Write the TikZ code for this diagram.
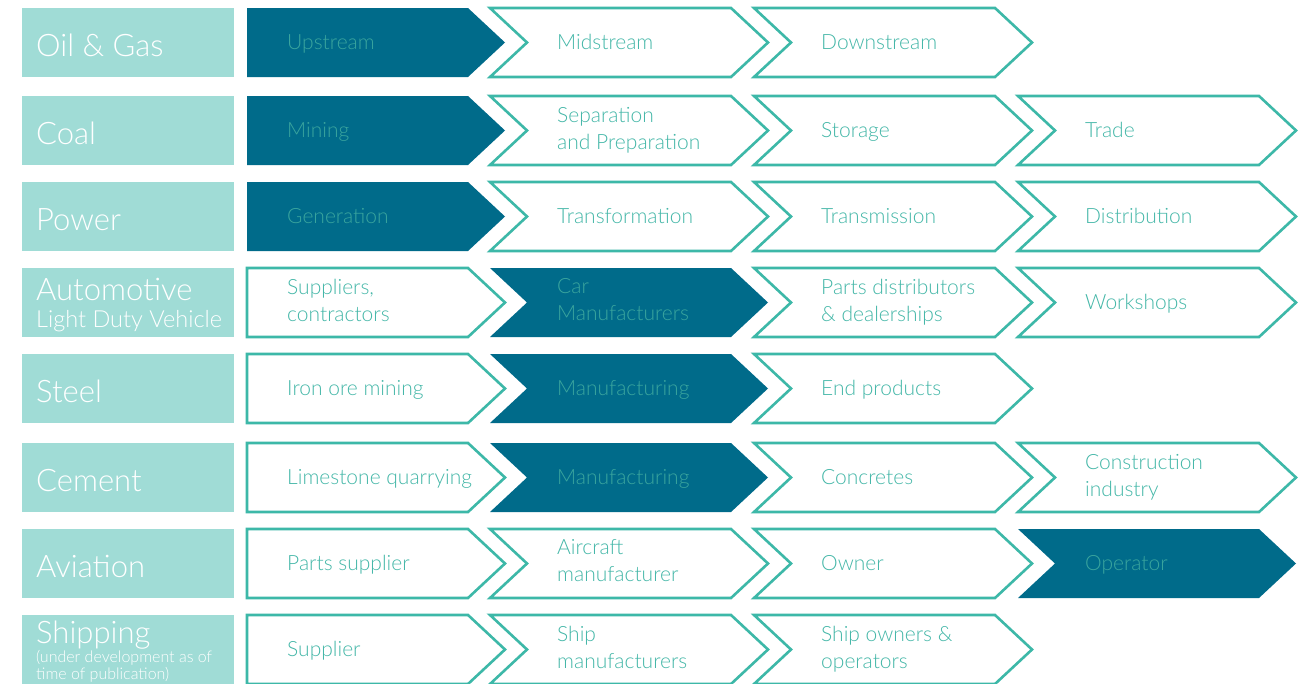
\documentclass[tikz,border=0pt]{standalone}
\usepackage{fontspec}
\setmainfont{Lato Light}
\usepackage{tikz}
\usetikzlibrary{positioning}

\definecolor{sectorbg}{HTML}{A0DCD6}
\definecolor{darkstage}{HTML}{006B8A}
\definecolor{tealline}{HTML}{3DB8A8}
\definecolor{tealtext}{HTML}{44B7A8}
\definecolor{dimtext}{HTML}{3AA59E}

% one chevron of a value chain: column, row top, look, node name, text
\newcommand{\valuestage}[5]{%
  \pgfmathsetmacro{\sL}{#1==0 ? 247 : 490+264*(#1-1)}%
  \pgfmathsetmacro{\sX}{#1==0 ? 287 : \sL+67}%
  \ifnum#1=0
    \path[#3] (\sL,#2) -- (\sL+221,#2) -- (\sL+258,#2+34.5) -- (\sL+221,#2+69) -- (\sL,#2+69) -- cycle;
  \else
    \path[#3] (\sL,#2) -- (\sL+241,#2) -- (\sL+278,#2+34.5) -- (\sL+241,#2+69) -- (\sL,#2+69) -- (\sL+37,#2+34.5) -- cycle;
  \fi
  \node[#3 text] (#4) at (\sX,#2+36) {#5};%
}

\begin{document}
\begin{tikzpicture}[x=1pt, y=-1pt,
  sector/.style={fill=sectorbg},
  sector text/.style={text=white, anchor=base west, inner sep=0pt, font=\fontsize{31}{31}\selectfont},
  sector note/.style={text=white, anchor=base west, inner sep=0pt, font=\fontsize{23.5}{23.5}\selectfont},
  sector small/.style={text=white, anchor=base west, inner sep=0pt, font=\fontsize{16}{16}\selectfont},
  openstage/.style={draw=tealline, line width=2.6pt, fill=white},
  fullstage/.style={fill=darkstage},
  stage text/.style={anchor=west, align=left, inner sep=0pt, font=\fontsize{21}{27}\selectfont,
    execute at begin node=\strut, execute at end node=\strut},
  openstage text/.style={stage text, text=tealtext},
  fullstage text/.style={stage text, text=dimtext}]
  \fill[white] (0,0) rectangle (1307,683);
  \useasboundingbox (0,0) rectangle (1307,683);

  % Oil & Gas
  \fill[sector] (22,8) rectangle (234,77);
  \node[sector text] (oilgas) at (36,56.5) {Oil \& Gas};
  \valuestage{0}{8}{fullstage}{oilup}{Upstream}
  \valuestage{1}{8}{openstage}{oilmid}{Midstream}
  \valuestage{2}{8}{openstage}{oildown}{Downstream}

  % Coal
  \fill[sector] (22,96) rectangle (234,165);
  \node[sector text] (coal) at (36,144.5) {Coal};
  \valuestage{0}{96}{fullstage}{coalmine}{Mining}
  \valuestage{1}{96}{openstage}{coalprep}{Separation\\and Preparation}
  \valuestage{2}{96}{openstage}{coalstore}{Storage}
  \valuestage{3}{96}{openstage}{coaltrade}{Trade}

  % Power
  \fill[sector] (22,182) rectangle (234,251);
  \node[sector text] (power) at (36,230.5) {Power};
  \valuestage{0}{182}{fullstage}{powgen}{Generation}
  \valuestage{1}{182}{openstage}{powtrans}{Transformation}
  \valuestage{2}{182}{openstage}{powtransm}{Transmission}
  \valuestage{3}{182}{openstage}{powdist}{Distribution}

  % Automotive
  \fill[sector] (22,268) rectangle (234,337);
  \node[sector text] (auto) at (36,300) {Automotive};
  \node[sector note] (autoldv) at (36,327) {Light Duty Vehicle};
  \valuestage{0}{268}{openstage}{autosup}{Suppliers,\\contractors}
  \valuestage{1}{268}{fullstage}{autocar}{Car\\Manufacturers}
  \valuestage{2}{268}{openstage}{autoparts}{Parts distributors\\\& dealerships}
  \valuestage{3}{268}{openstage}{autoshop}{Workshops}

  % Steel
  \fill[sector] (22,354) rectangle (234,423);
  \node[sector text] (steel) at (36,402.5) {Steel};
  \valuestage{0}{354}{openstage}{steelore}{Iron ore mining}
  \valuestage{1}{354}{fullstage}{steelman}{Manufacturing}
  \valuestage{2}{354}{openstage}{steelend}{End products}

  % Cement
  \fill[sector] (22,443) rectangle (234,512);
  \node[sector text] (cement) at (36,491.5) {Cement};
  \valuestage{0}{443}{openstage}{cemlime}{Limestone quarrying}
  \valuestage{1}{443}{fullstage}{cemman}{Manufacturing}
  \valuestage{2}{443}{openstage}{cemconc}{Concretes}
  \valuestage{3}{443}{openstage}{cemcons}{Construction\\industry}

  % Aviation
  \fill[sector] (22,529) rectangle (234,598);
  \node[sector text] (aviation) at (36,577.5) {Aviation};
  \valuestage{0}{529}{openstage}{avparts}{Parts supplier}
  \valuestage{1}{529}{openstage}{avmaker}{Aircraft\\manufacturer}
  \valuestage{2}{529}{openstage}{avowner}{Owner}
  \valuestage{3}{529}{fullstage}{avop}{Operator}

  % Shipping
  \fill[sector] (22,615) rectangle (234,684);
  \node[sector text] (shipping) at (36,643) {Shipping};
  \node[sector small] (shipnote) at (36,662) {(under development as of};
  \node[sector small] (shipdate) at (36,679) {time of publication)};
  \valuestage{0}{615}{openstage}{shipsup}{Supplier}
  \valuestage{1}{615}{openstage}{shipmaker}{Ship\\manufacturers}
  \valuestage{2}{615}{openstage}{shipowner}{Ship owners \&\\operators}
\end{tikzpicture}
\end{document}
